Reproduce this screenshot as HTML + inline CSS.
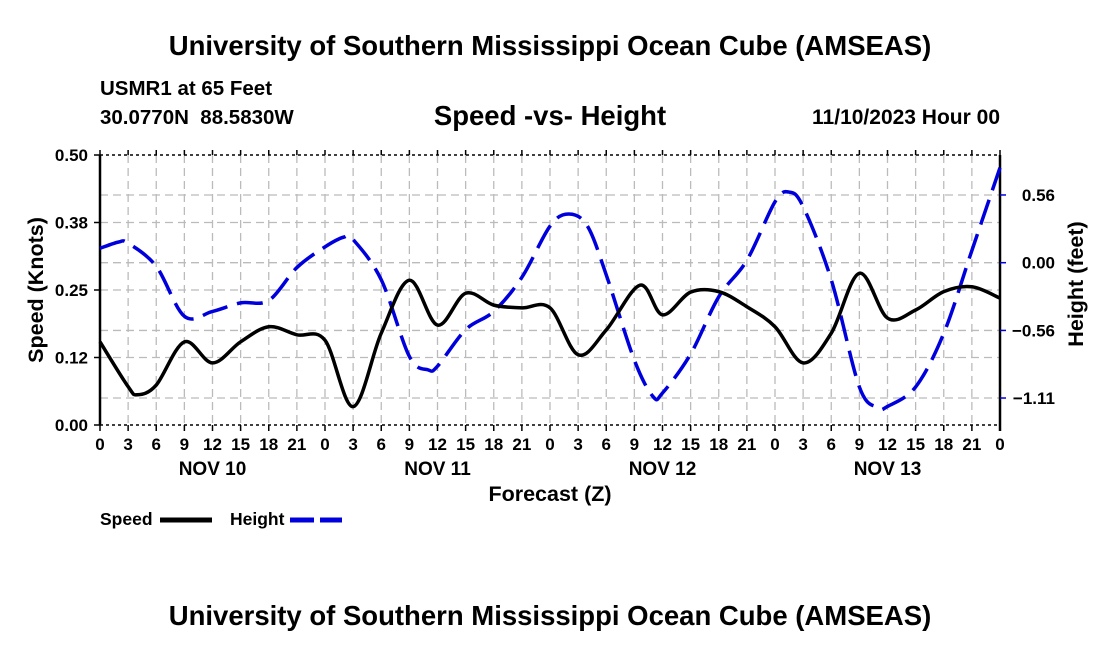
<!DOCTYPE html>
<html><head><meta charset="utf-8"><style>
body{margin:0;background:#fff;}
svg{display:block;font-family:"Liberation Sans",Arial,sans-serif;font-weight:bold;}
</style></head><body>
<svg width="1100" height="650" xmlns="http://www.w3.org/2000/svg">
<text x="550" y="55" text-anchor="middle" font-size="27.5">University of Southern Mississippi Ocean Cube (AMSEAS)</text>
<text x="100" y="95" font-size="20.5">USMR1 at 65 Feet</text>
<text x="100" y="124" font-size="20.5" xml:space="preserve">30.0770N  88.5830W</text>
<text x="550" y="125" text-anchor="middle" font-size="27.5">Speed -vs- Height</text>
<text x="1000" y="124" text-anchor="end" font-size="21">11/10/2023 Hour 00</text>
<g id="grid"></g>
<g id="axes"></g>
<g id="series"></g>
<text x="550" y="501" text-anchor="middle" font-size="21.5">Forecast (Z)</text>
<text transform="translate(43,290) rotate(-90)" text-anchor="middle" font-size="21.5">Speed (Knots)</text>
<text transform="translate(1083,284) rotate(-90)" text-anchor="middle" font-size="21.5">Height (feet)</text>
<g>
<text x="100" y="525" font-size="17.5">Speed</text>
<line x1="160" y1="520" x2="212" y2="520" stroke="#000" stroke-width="5"/>
<text x="230" y="525" font-size="17.5">Height</text>
<line x1="290" y1="520" x2="342" y2="520" stroke="#0000dd" stroke-width="5" stroke-dasharray="24 6"/>
</g>
<text x="550" y="625" text-anchor="middle" font-size="27.5">University of Southern Mississippi Ocean Cube (AMSEAS)</text>
</svg>
<script>
const speedHours=[0,3,4,6,9,12,15,18,21,24,27,30,33,36,39,42,45,48,51,54,57.6,60,63,66,69,72,75,78,81,84,87,90,93,96];
const speedVals=[0.154,0.071,0.056,0.074,0.154,0.115,0.154,0.182,0.167,0.157,0.034,0.17,0.268,0.185,0.244,0.222,0.217,0.217,0.13,0.176,0.259,0.204,0.246,0.247,0.219,0.182,0.115,0.17,0.281,0.198,0.213,0.247,0.256,0.235];
const heightHours=[0,2,3,6,9,12,15,18,21,24,26,27,30,33,35,36,39,42,45,48,50,52,54,57,59,60,63,66,69,72,73.5,75,78,81,83,84,87,90,93,96];
const heightVals=[0.118,0.17,0.16,-0.03,-0.44,-0.40,-0.33,-0.31,-0.04,0.13,0.21,0.19,-0.14,-0.77,-0.88,-0.85,-0.55,-0.40,-0.12,0.30,0.40,0.30,-0.10,-0.80,-1.10,-1.07,-0.75,-0.28,0.02,0.50,0.58,0.46,-0.14,-1.02,-1.19,-1.18,-1.02,-0.58,0.10,0.78];
const xTickLabels=["0","3","6","9","12","15","18","21","0","3","6","9","12","15","18","21","0","3","6","9","12","15","18","21","0","3","6","9","12","15","18","21","0"];
const dayLabels=["NOV 10","NOV 11","NOV 12","NOV 13"];
const leftTicks=[0,0.125,0.25,0.375,0.5];
const leftTickLabels=["0.00","0.12","0.25","0.38","0.50"];
const rightTicks=[0.556,0,-0.556,-1.111];
const rightTickLabels=["0.56","0.00","−0.56","−1.11"];
const NS="http://www.w3.org/2000/svg";
const X0=100,X1=1000,YT=155,YB=425;
const xS=h=>X0+h*(X1-X0)/96;
const yL=v=>YB-v*(YB-YT)/0.5;
const yR=v=>262.7-v*121.8;
function mk(tag,attrs,parent){const e=document.createElementNS(NS,tag);for(const k in attrs)e.setAttribute(k,attrs[k]);parent.appendChild(e);return e;}
const grid=document.getElementById('grid'),axes=document.getElementById('axes'),series=document.getElementById('series');
for(let i=1;i<32;i++){const l=mk('line',{x1:xS(i*3),x2:xS(i*3),y1:YT,y2:YB,stroke:'#bbb','stroke-width':1.3,'stroke-dasharray':'8 5'},grid);

}
leftTicks.slice(1,4).forEach(v=>{const l=mk('line',{x1:X0,x2:X1,y1:yL(v),y2:yL(v),stroke:'#bbb','stroke-width':1.3,'stroke-dasharray':'8 5'},grid);

});
rightTicks.forEach(v=>{const l=mk('line',{x1:X0,x2:X1,y1:yR(v),y2:yR(v),stroke:'#bbb','stroke-width':1.3,'stroke-dasharray':'8 5'},grid);

});
mk('line',{x1:X0,x2:X0,y1:YT,y2:YB,stroke:'#000','stroke-width':2.5},axes);
mk('line',{x1:X1,x2:X1,y1:YT,y2:YB+6,stroke:'#000','stroke-width':2.5},axes);
mk('line',{x1:X0,x2:X1,y1:YT,y2:YT,stroke:'#000','stroke-width':1.5,'stroke-dasharray':'3 3'},axes);
mk('line',{x1:X0,x2:X1,y1:YB,y2:YB,stroke:'#000','stroke-width':1.5,'stroke-dasharray':'3 3'},axes);
xTickLabels.forEach((t,i)=>{const x=xS(i*3);
mk('line',{x1:x,x2:x,y1:YB,y2:YB+6,stroke:'#000','stroke-width':1.5},axes);
mk('line',{x1:x,x2:x,y1:YT,y2:YT-5,stroke:'#000','stroke-width':1.5},axes);
const tx=mk('text',{x:x,y:YB+25,'text-anchor':'middle','font-size':17},axes);tx.textContent=t;

});
dayLabels.forEach((d,i)=>{const tx=mk('text',{x:xS(12+i*24),y:YB+50,'text-anchor':'middle','font-size':19},axes);tx.textContent=d;

});
leftTicks.forEach((v,i)=>{const y=yL(v);
mk('line',{x1:X0-6,x2:X0,y1:y,y2:y,stroke:'#000','stroke-width':1.5},axes);
const tx=mk('text',{x:X0-12,y:y+6,'text-anchor':'end','font-size':17},axes);tx.textContent=leftTickLabels[i];

});
rightTicks.forEach((v,i)=>{const y=yR(v);
mk('line',{x1:X1,x2:X1+6,y1:y,y2:y,stroke:'#0000dd','stroke-width':1.5},axes);
const tx=mk('text',{x:X1+55,y:y+6,'text-anchor':'end','font-size':17},axes);tx.textContent=rightTickLabels[i];

});
function path(hs,vs,ys){const p=hs.map((h,i)=>[xS(h),ys(vs[i])]);let d='M'+p[0][0]+','+p[0][1];
for(let i=0;i<p.length-1;i++){const a=p[Math.max(0,i-1)],b=p[i],c=p[i+1],e=p[Math.min(p.length-1,i+2)];
d+=' C'+(b[0]+(c[0]-a[0])/6)+','+(b[1]+(c[1]-a[1])/6)+' '+(c[0]-(e[0]-b[0])/6)+','+(c[1]-(e[1]-b[1])/6)+' '+c[0]+','+c[1];}return d;}
const hp=mk('path',{d:path(heightHours,heightVals,yR),fill:'none',stroke:'#0000dd','stroke-width':3.5,'stroke-dasharray':'26 10'},series);


const sp=mk('path',{d:path(speedHours,speedVals,yL),fill:'none',stroke:'#000','stroke-width':3.5},series);


</script>
</body></html>
